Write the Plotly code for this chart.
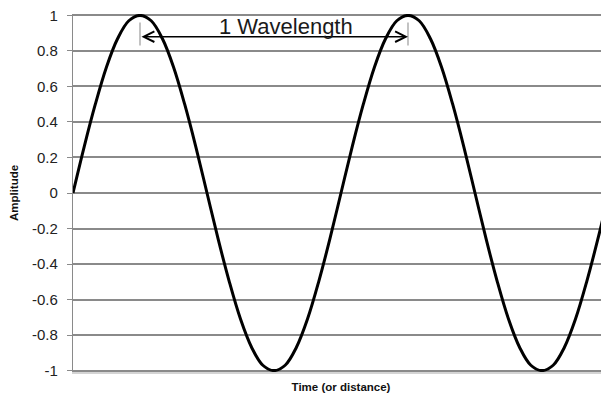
import plotly.graph_objects as go

# Position along the wave, in wavelengths (sampled every 1/24 wavelength)
x_pos = [i / 24 for i in range(49)]
# Amplitude at those positions
amplitude = [0, 0.26, 0.5, 0.71, 0.87, 0.97, 1, 0.97, 0.87, 0.71, 0.5, 0.26,
             0, -0.26, -0.5, -0.71, -0.87, -0.97, -1, -0.97, -0.87, -0.71, -0.5, -0.26,
             0, 0.26, 0.5, 0.71, 0.87, 0.97, 1, 0.97, 0.87, 0.71, 0.5, 0.26,
             0, -0.26, -0.5, -0.71, -0.87, -0.97, -1, -0.97, -0.87, -0.71, -0.5, -0.26, 0]
y_ticks = [1, 0.8, 0.6, 0.4, 0.2, 0, -0.2, -0.4, -0.6, -0.8, -1]
y_ticklabels = ["1", "0.8", "0.6", "0.4", "0.2", "0", "-0.2", "-0.4", "-0.6", "-0.8", "-1"]
wave_start = 0.25   # first crest
wave_end = 1.25     # second crest
arrow_y = 0.88
label_text = "1 Wavelength"
label_x = 0.795
label_y = 0.94

FONT = "Liberation Sans, Arial, sans-serif"

fig = go.Figure()
fig.add_trace(go.Scatter(
    x=x_pos, y=amplitude, mode="lines",
    line=dict(color="black", width=3, shape="spline", smoothing=1.0),
    hoverinfo="skip", showlegend=False,
))

# End markers of the wavelength span
for xv in (wave_start, wave_end):
    fig.add_shape(type="line", x0=xv, x1=xv, y0=0.83, y1=0.96,
                  xref="x", yref="y", line=dict(color="#9a9a9a", width=1.2))

# Double-headed arrow
fig.add_annotation(x=wave_end, y=arrow_y, ax=wave_start, ay=arrow_y,
                   xref="x", yref="y", axref="x", ayref="y",
                   text="", showarrow=True, arrowside="end+start",
                   arrowhead=5, arrowsize=1.6, arrowwidth=1.3, arrowcolor="black",
                   standoff=0, startstandoff=0)
fig.add_annotation(x=label_x, y=label_y, xref="x", yref="y",
                   text=label_text, showarrow=False,
                   font=dict(family=FONT, size=22, color="#1a1a1a"))

# page body has an 8px margin, so the figure is sized/offset to compensate
fig.update_layout(
    width=601, height=396,
    margin=dict(l=65, r=0, t=6, b=32),
    paper_bgcolor="white", plot_bgcolor="white",
    font=dict(family=FONT, color="#222"),
    xaxis=dict(range=[0, 2], showgrid=False, zeroline=False, showticklabels=False,
               ticks="", showline=True, linecolor="#d4d4d4", linewidth=1.5,
               automargin=False,
               title=dict(text="<b>Time (or distance)</b>", font=dict(size=11.5, color="#111"),
                          standoff=10)),
    yaxis=dict(range=[-1.008, 1.008], tickvals=y_ticks, ticktext=y_ticklabels,
               showgrid=True, gridcolor="#8a8a8a", gridwidth=1.5, zeroline=False,
               showline=True, linecolor="#8a8a8a", linewidth=1.2,
               ticks="outside", ticklen=5, tickcolor="#8a8a8a", tickwidth=1.2,
               tickfont=dict(size=15, color="#222"), ticklabelstandoff=6,
               ticklabeloverflow="allow",
               automargin=False,
               title=dict(text="<b>Amplitude</b>", font=dict(size=11.5, color="#111"),
                          standoff=17)),
)

fig.write_html("out.html")
